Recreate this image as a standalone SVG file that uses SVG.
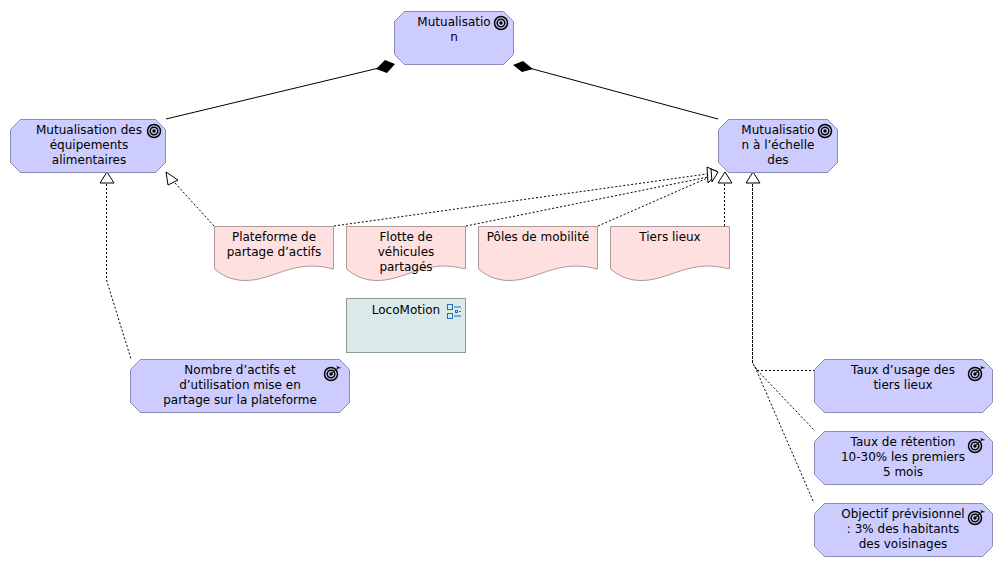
<svg xmlns="http://www.w3.org/2000/svg" width="1003" height="567" viewBox="0 0 1003 567">
<style>
text{font-family:"DejaVu Sans",sans-serif;font-size:12px;fill:#000;text-anchor:middle}
.goal{fill:#ccccff;stroke:#8a8ab8;stroke-width:1}
.doc{fill:#ffe0e0;stroke:#b09898;stroke-width:1}
.loc{fill:#daeaea;stroke:#8c9c9c;stroke-width:1}
.solid{fill:none;stroke:#000;stroke-width:1}
.dash{fill:none;stroke:#000;stroke-width:1;stroke-dasharray:2 2}
.dense{fill:none;stroke:#000;stroke-width:1;stroke-dasharray:3 1}
.ring{fill:none;stroke:#000;stroke-width:1.5}
.head{fill:#fff;stroke:#000;stroke-width:1}
</style>
<defs>
<symbol id="target" width="16" height="16" viewBox="0 0 16 16" overflow="visible"><circle cx="8" cy="8" r="6.5" class="ring"/><circle cx="8" cy="8" r="3.8" class="ring"/><circle cx="8" cy="8" r="1.7" fill="#000"/></symbol>
<symbol id="dart" width="20" height="20" viewBox="0 0 20 20" overflow="visible"><circle cx="8" cy="10" r="6.5" class="ring"/><circle cx="8" cy="10" r="3.8" class="ring"/><circle cx="8" cy="10" r="1.7" fill="#000"/><path d="M8 10L15 4" stroke="#000" stroke-width="1"/><path d="M13.500 1.500L14.500 4.500L18.500 4L15.500 3Z" fill="#000"/></symbol>
</defs>
<g id="connectors">
<path class="solid" d="M166 119L379 68"/>
<path d="M395 64L385 60L376 69L387 73Z" fill="#000"/>
<path class="solid" d="M718 119L529 68"/>
<path d="M513 65L523 61L533 69L522 72Z" fill="#000"/>
<path class="dash" d="M106.500 184V280L131 359"/>
<path class="head" d="M107 172L100 183H114Z"/>
<path class="dash" d="M214 226L175 183"/>
<path class="head" d="M166 172L168 185L178 180Z"/>
<path class="dash" d="M334 226L707 174"/>
<path class="dash" d="M466 226L708 177"/>
<path class="dash" d="M598 226L712 176"/>
<path class="head" d="M718 172L707 167L708 183Z"/>
<path class="head" d="M718 172L711 169L712 182Z"/>
<path class="dash" d="M724.500 226V184"/>
<path class="head" d="M725 172L718 183H732Z"/>
<path class="dense" d="M752.500 184V363L757 370"/>
<path class="head" d="M753 172L746 183H760Z"/>
<path class="dash" d="M757 370.500H814"/>
<path class="dash" d="M757 370L815 431"/>
<path class="dash" d="M755 367L814 503"/>
</g>
<g id="n1"><path class="goal" d="M404.500 11.500H503.500L513.500 21.500V54.500L503.500 64.500H404.500L394.500 54.500V21.500Z"/><use href="#target" x="493" y="15"/><text x="454" y="26">Mutualisatio</text><text x="454" y="41">n</text></g>
<g id="n2"><path class="goal" d="M20.500 119.500H155.500L165.500 129.500V162.500L155.500 172.500H20.500L10.500 162.500V129.500Z"/><use href="#target" x="146" y="123"/><text x="89" y="134">Mutualisation des</text><text x="89" y="149">équipements</text><text x="89" y="164">alimentaires</text></g>
<g id="n3"><path class="goal" d="M728.500 119.500H827.500L837.500 129.500V162.500L827.500 172.500H728.500L718.500 162.500V129.500Z"/><use href="#target" x="817" y="123"/><text x="778" y="134">Mutualisatio</text><text x="778" y="149">n à l’échelle</text><text x="778" y="164">des</text></g>
<g id="d1"><path class="doc" d="M214.500 226.500H333.500V269C293 258 274 281 244 280.500C230 280 222 275 214.500 269Z"/><text x="274" y="241">Plateforme de</text><text x="274" y="256">partage d’actifs</text></g>
<g id="d2"><path class="doc" d="M346.500 226.500H465.500V269C425 258 406 281 376 280.500C362 280 354 275 346.500 269Z"/><text x="406" y="241">Flotte de</text><text x="406" y="256">véhicules</text><text x="406" y="271">partagés</text></g>
<g id="d3"><path class="doc" d="M478.500 226.500H597.500V269C557 258 538 281 508 280.500C494 280 486 275 478.500 269Z"/><text x="538" y="241">Pôles de mobilité</text></g>
<g id="d4"><path class="doc" d="M610.500 226.500H729.500V269C689 258 670 281 640 280.500C626 280 618 275 610.500 269Z"/><text x="670" y="241">Tiers lieux</text></g>
<g id="loco"><rect class="loc" x="346.500" y="298.500" width="119" height="54"/><g fill="none" stroke="#1f6fc0"><rect x="447.500" y="304.500" width="5" height="5"/><rect x="447.500" y="313.500" width="5" height="5"/><rect x="455.500" y="310.500" width="2" height="2"/><path d="M454 307H461M459 311.500H461M454 316H461"/></g><text x="406" y="314">LocoMotion</text></g>
<g id="g1"><path class="goal" d="M140.500 359.500H339.500L349.500 369.500V402.500L339.500 412.500H140.500L130.500 402.500V369.500Z"/><use href="#dart" x="323" y="364"/><text x="240" y="374">Nombre d’actifs et</text><text x="240" y="389">d’utilisation mise en</text><text x="240" y="404">partage sur la plateforme</text></g>
<g id="g2"><path class="goal" d="M824.500 359.500H982.500L992.500 369.500V402.500L982.500 412.500H824.500L814.500 402.500V369.500Z"/><use href="#dart" x="967" y="364"/><text x="903" y="374">Taux d’usage des</text><text x="903" y="389">tiers lieux</text></g>
<g id="g3"><path class="goal" d="M824.500 431.500H982.500L992.500 441.500V474.500L982.500 484.500H824.500L814.500 474.500V441.500Z"/><use href="#dart" x="967" y="436"/><text x="903" y="446">Taux de rétention</text><text x="903" y="461">10-30% les premiers</text><text x="903" y="476">5 mois</text></g>
<g id="g4"><path class="goal" d="M824.500 503.500H982.500L992.500 513.500V546.500L982.500 556.500H824.500L814.500 546.500V513.500Z"/><use href="#dart" x="967" y="508"/><text x="903" y="518">Objectif prévisionnel</text><text x="903" y="533">: 3% des habitants</text><text x="903" y="548">des voisinages</text></g>
</svg>
